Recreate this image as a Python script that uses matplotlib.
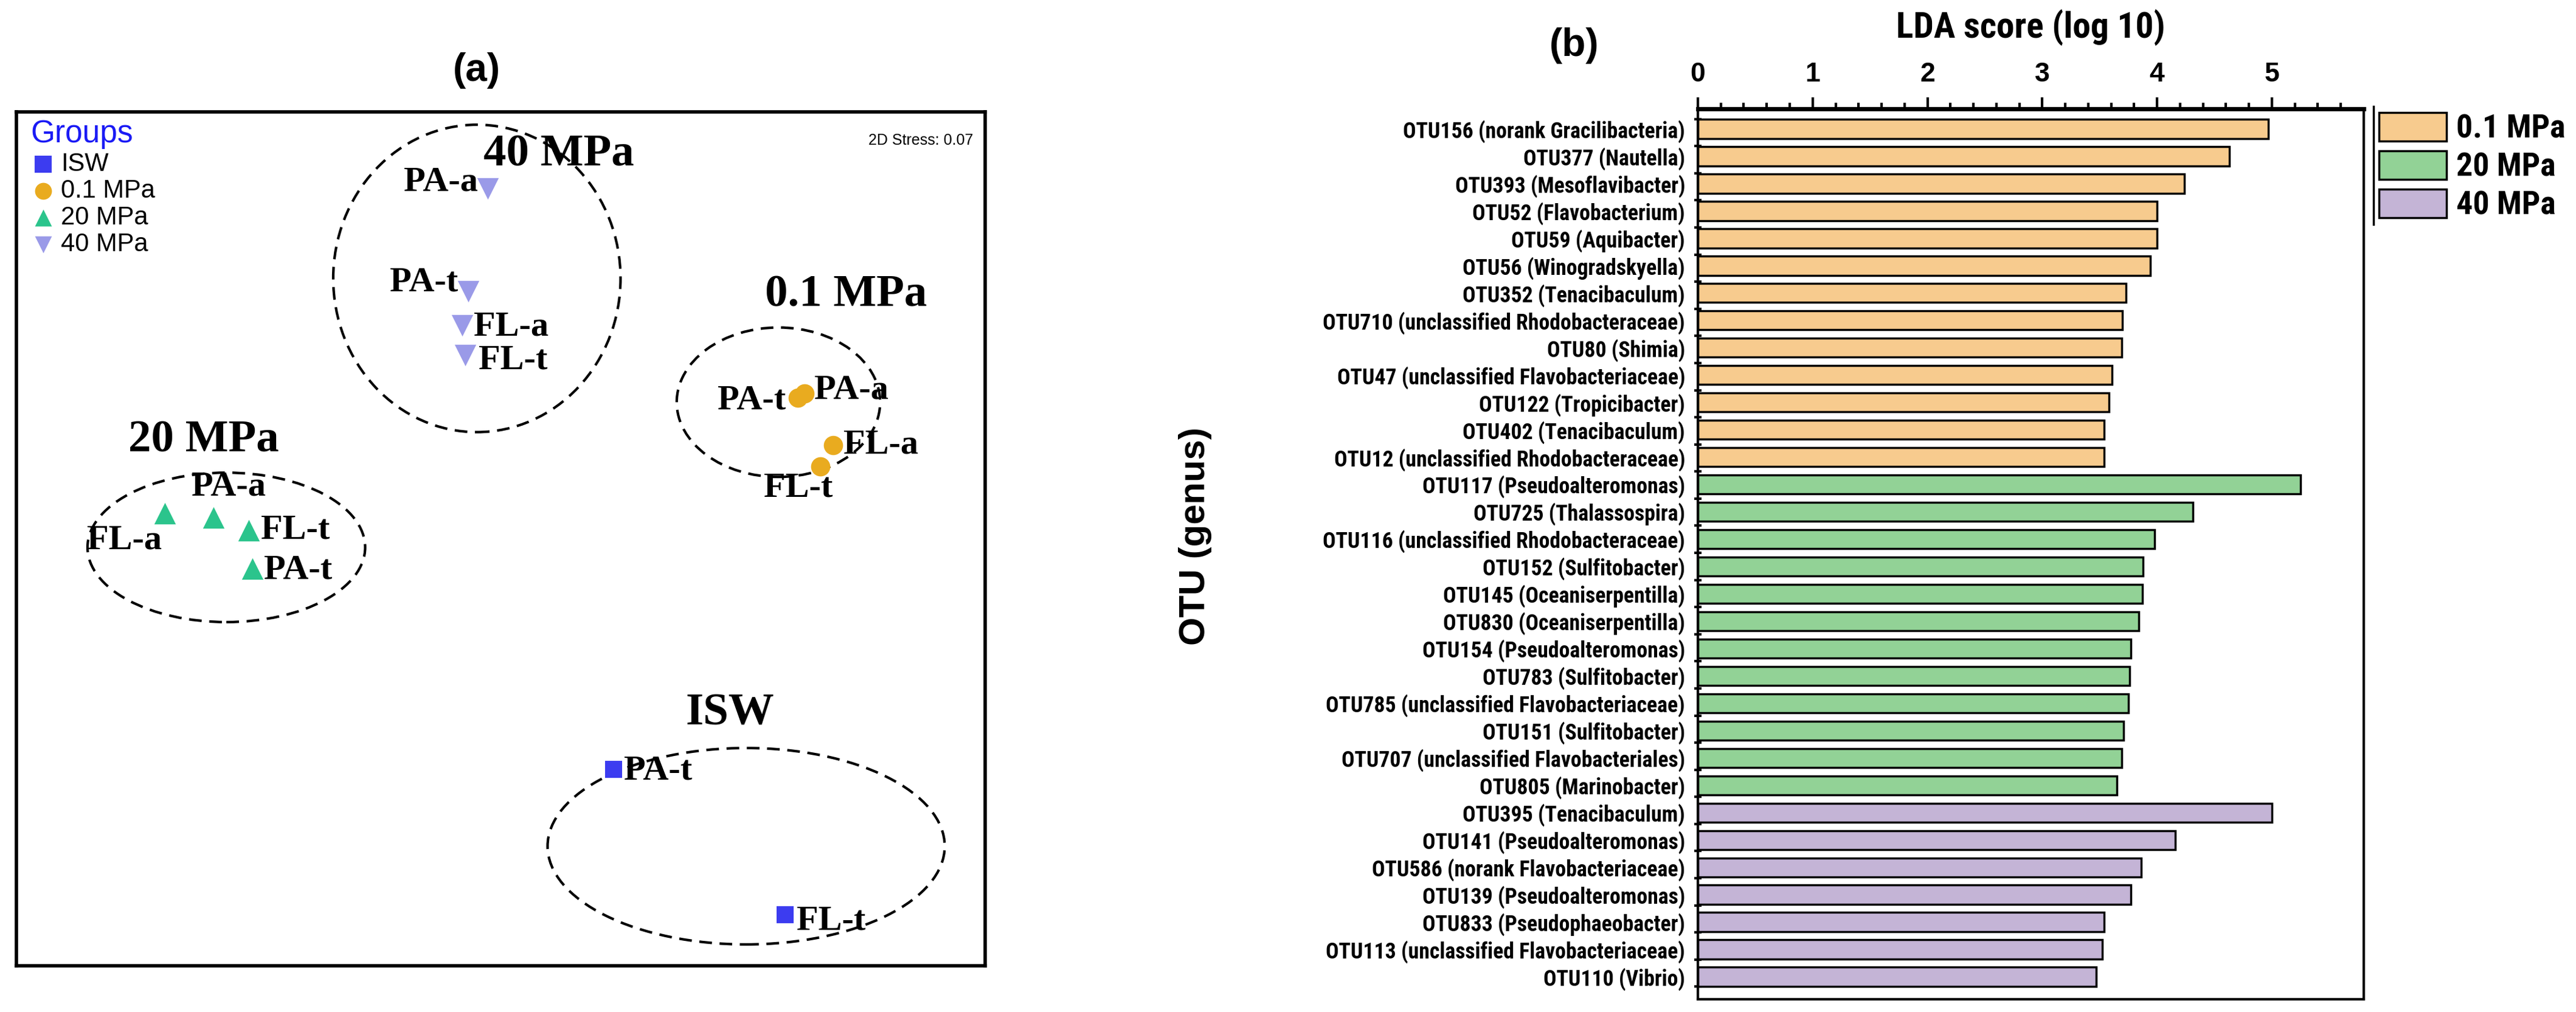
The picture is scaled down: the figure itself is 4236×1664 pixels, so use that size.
import os
import matplotlib
matplotlib.use('Agg')
import matplotlib.pyplot as plt
from matplotlib.patches import Ellipse, Patch
from matplotlib.lines import Line2D
from matplotlib import font_manager
import numpy as np

# ---- panel (a): NMDS ordination ----
groups = ['ISW', '0.1 MPa', '20 MPa', '40 MPa']
group_colors = ['#3C3CF0', '#E9AB1F', '#2BC48C', '#9A9AE8']
group_markers = ['s', 'o', '^', 'v']

isw_samples = ['PA-t', 'FL-t']
isw_x = [0.35, 0.88]
isw_y = [-0.54, -0.88]

p01_samples = ['PA-a', 'PA-t', 'FL-a', 'FL-t']
p01_x = [0.94, 0.92, 1.03, 0.99]
p01_y = [0.34, 0.33, 0.22, 0.17]

p20_samples = ['FL-a', 'PA-a', 'FL-t', 'PA-t']
p20_x = [-1.04, -0.89, -0.78, -0.77]
p20_y = [0.06, 0.05, 0.02, -0.07]

p40_samples = ['PA-a', 'PA-t', 'FL-a', 'FL-t']
p40_x = [-0.04, -0.10, -0.12, -0.11]
p40_y = [0.82, 0.58, 0.50, 0.43]

stress = 0.07

# ---- panel (b): LEfSe LDA scores ----
otu_01 = ['OTU156 (norank Gracilibacteria)', 'OTU377 (Nautella)', 'OTU393 (Mesoflavibacter)',
          'OTU52 (Flavobacterium)', 'OTU59 (Aquibacter)', 'OTU56 (Winogradskyella)',
          'OTU352 (Tenacibaculum)', 'OTU710 (unclassified Rhodobacteraceae)', 'OTU80 (Shimia)',
          'OTU47 (unclassified Flavobacteriaceae)', 'OTU122 (Tropicibacter)',
          'OTU402 (Tenacibaculum)', 'OTU12 (unclassified Rhodobacteraceae)']
lda_01 = [4.97, 4.63, 4.24, 4.00, 4.00, 3.94, 3.73, 3.70, 3.69, 3.61, 3.58, 3.54, 3.54]

otu_20 = ['OTU117 (Pseudoalteromonas)', 'OTU725 (Thalassospira)',
          'OTU116 (unclassified Rhodobacteraceae)', 'OTU152 (Sulfitobacter)',
          'OTU145 (Oceaniserpentilla)', 'OTU830 (Oceaniserpentilla)', 'OTU154 (Pseudoalteromonas)',
          'OTU783 (Sulfitobacter)', 'OTU785 (unclassified Flavobacteriaceae)',
          'OTU151 (Sulfitobacter)', 'OTU707 (unclassified Flavobacteriales)', 'OTU805 (Marinobacter)']
lda_20 = [5.25, 4.31, 3.98, 3.88, 3.87, 3.84, 3.77, 3.76, 3.75, 3.71, 3.69, 3.65]

otu_40 = ['OTU395 (Tenacibaculum)', 'OTU141 (Pseudoalteromonas)', 'OTU586 (norank Flavobacteriaceae)',
          'OTU139 (Pseudoalteromonas)', 'OTU833 (Pseudophaeobacter)',
          'OTU113 (unclassified Flavobacteriaceae)', 'OTU110 (Vibrio)']
lda_40 = [5.00, 4.16, 3.86, 3.77, 3.54, 3.52, 3.47]

bar_groups = ['0.1 MPa', '20 MPa', '40 MPa']
bar_colors = ['#F7CB8E', '#92D296', '#C4B4D6']

serif = 'Liberation Serif'
sans = 'Liberation Sans'

# condensed bold face for panel (b) if one is installed, else plain bold sans a bit smaller
wanted = [('liberationsansnarrow-bold.ttf', 1.0), ('notosans-condensedbold.ttf', 0.93),
          ('robotocondensed-bold.ttf', 0.97), ('opensans-condensedbold.ttf', 0.95)]
files = {os.path.basename(f.fname).lower(): f.fname for f in font_manager.fontManager.ttflist}
narrow_file, narrow_scale = None, 0.85
for name, scale in wanted:
    if name in files:
        narrow_file, narrow_scale = files[name], scale
        break


def bfont(size):
    if narrow_file:
        return font_manager.FontProperties(fname=narrow_file, size=size * narrow_scale)
    return font_manager.FontProperties(family=sans, weight='bold', size=size * narrow_scale)


fig = plt.figure(figsize=(42.36, 16.64), dpi=100)

# ================= (a) =================
ax = fig.add_axes([0.0064, 0.0457, 0.376, 0.8437])
ax.set_xlim(-1.5, 1.5)
ax.set_ylim(-1.0, 1.0)
ax.set_xticks([])
ax.set_yticks([])
for s in ax.spines.values():
    s.set_linewidth(4)

sets = [(isw_samples, isw_x, isw_y), (p01_samples, p01_x, p01_y),
        (p20_samples, p20_x, p20_y), (p40_samples, p40_x, p40_y)]
sizes = [420, 520, 650, 650]
for (names, xs, ys), g, c, m, sz in zip(sets, groups, group_colors, group_markers, sizes):
    ax.scatter(xs, ys, s=sz, c=c, marker=m, linewidths=0, label=g, zorder=3)

# sample labels: (ha, dx, dy) in points
lab_place = {
    'ISW': [('left', 12, -2), ('left', 14, -8)],
    '0.1 MPa': [('left', 12, 4), ('right', -14, -3), ('left', 12, 0), ('center', -26, -26)],
    '20 MPa': [('center', -48, -32), ('center', 18, 36), ('left', 14, 0), ('left', 14, -2)],
    '40 MPa': [('right', -12, 8), ('right', -12, 10), ('left', 14, -2), ('left', 16, -6)],
}
for (names, xs, ys), g in zip(sets, groups):
    for n, x, y, (ha, dx, dy) in zip(names, xs, ys, lab_place[g]):
        ax.annotate(n, (x, y), xytext=(dx, dy), textcoords='offset points',
                    ha=ha, va='center', fontsize=42, fontweight='bold', family=serif, zorder=4)

# hand-drawn group ellipses: centre x, centre y, width, height
ell_x = [0.76, 0.86, -0.85, -0.074]
ell_y = [-0.72, 0.32, -0.02, 0.61]
ell_w = [1.23, 0.63, 0.86, 0.89]
ell_h = [0.46, 0.35, 0.35, 0.72]
for ex, ey, ew, eh in zip(ell_x, ell_y, ell_w, ell_h):
    ax.add_patch(Ellipse((ex, ey), ew, eh, fill=False, ec='black', lw=3,
                         linestyle=(0, (5, 3)), zorder=2))

grp_lab_x = [0.71, 1.07, -0.92, 0.18]
grp_lab_y = [-0.41, 0.57, 0.23, 0.90]
for g, x, y in zip(groups, grp_lab_x, grp_lab_y):
    ax.text(x, y, g, ha='center', va='center', fontsize=54, fontweight='bold', family=serif)

ax.text(0.988, 0.975, '2D Stress: %.2f' % stress, transform=ax.transAxes, ha='right', va='top',
        fontsize=18, family=sans)

leg = ax.legend(loc='upper left', bbox_to_anchor=(-0.004, 1.012), frameon=False, title='Groups',
                prop={'family': sans, 'size': 30}, handletextpad=0.2, labelspacing=0.1,
                borderaxespad=0.3, handlelength=1.0, scatterpoints=1, alignment='left',
                title_fontproperties={'family': sans, 'size': 37})
leg.get_title().set_color('#1A1AF5')
for h in leg.legend_handles:
    h.set_sizes([400])

fig.text(0.185, 0.93, '(a)', ha='center', va='center', fontsize=46, fontweight='bold', family=sans)

# ================= (b) =================
bx = fig.add_axes([0.6591, 0.0126, 0.2585, 0.8798])
labels = otu_01 + otu_20 + otu_40
values = lda_01 + lda_20 + lda_40
colors = ([bar_colors[0]] * len(lda_01) + [bar_colors[1]] * len(lda_20) +
          [bar_colors[2]] * len(lda_40))
ypos = np.arange(len(values))
bx.barh(ypos, values, height=0.7, color=colors, edgecolor='black', linewidth=2.5, zorder=2)
bx.set_ylim(len(values) - 1 + 0.82, -0.73)
bx.set_xlim(0, 5.8)
bx.set_yticks(ypos)
bx.set_yticklabels(labels)
for t in bx.get_yticklabels():
    t.set_fontproperties(bfont(26.5))
bx.set_yticks(np.linspace(-0.36, len(values) - 1 + 0.36, len(values) + 1), minor=True)
bx.tick_params(axis='y', which='major', length=0, pad=15)
bx.tick_params(axis='y', which='minor', direction='inout', length=9, width=3)
bx.xaxis.tick_top()
bx.xaxis.set_label_position('top')
bx.set_xticks(np.arange(0, 6))
bx.set_xticks(np.arange(0, 5.8, 0.2), minor=True)
bx.tick_params(axis='x', which='major', length=14, width=3, labelsize=32, pad=12)
bx.tick_params(axis='x', which='minor', length=7, width=3)
for t in bx.get_xticklabels():
    t.set_fontweight('bold')
    t.set_family(sans)
for s in bx.spines.values():
    s.set_linewidth(3)
bx.spines['top'].set_linewidth(5)
bx.set_xlabel('LDA score (log 10)', fontproperties=bfont(44), labelpad=28)

fig.text(0.4641, 0.47, 'OTU (genus)', rotation=90, ha='center', va='center',
         fontsize=43, fontweight='bold', family=sans)

fig.text(0.611, 0.955, '(b)', ha='center', va='center', fontsize=46, fontweight='bold', family=sans)

handles = [Patch(facecolor=c, edgecolor='black', linewidth=2.5) for c in bar_colors]
lf = bfont(40)
fs_px = lf.get_size_in_points() * 100 / 72
bl = fig.legend(handles, bar_groups, loc='upper left', bbox_to_anchor=(0.9235, 0.889),
                frameon=False, prop=lf,
                handlelength=111 / fs_px, handleheight=52 / fs_px, labelspacing=10 / fs_px,
                handletextpad=0.3, borderaxespad=0.0, borderpad=0.0)
fig.add_artist(Line2D([0.9215, 0.9215], [0.778, 0.895], color='black', lw=2.5))

fig.savefig('out.png', dpi=100)
